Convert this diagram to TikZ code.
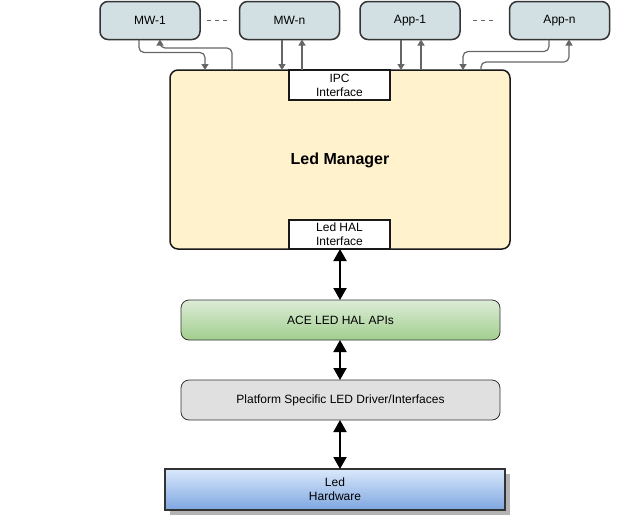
\documentclass[tikz,border=0pt]{standalone}
\usepackage{fontspec}
\setmainfont{Liberation Sans}
\usetikzlibrary{arrows.meta,calc,shadows}
\definecolor{topfill}{HTML}{D2DFE3}
\definecolor{boxline}{HTML}{333333}
\definecolor{arrgray}{HTML}{666666}
\definecolor{mgrfill}{HTML}{FFF2CC}
\definecolor{greentop}{HTML}{DCECD7}
\definecolor{greenbot}{HTML}{A2CE8E}
\definecolor{platfill}{HTML}{E0E0E0}
\definecolor{bluetop}{HTML}{DAE8FC}
\definecolor{bluebot}{HTML}{7EA6E0}
\definecolor{shadowgray}{HTML}{B3B3B3}
\begin{document}
\begin{tikzpicture}[x=1pt,y=-1pt,
  every node/.style={inner sep=0pt, outer sep=0pt, align=center},
  topbox/.style={draw=boxline, fill=topfill, line width=1.5pt, rounded corners=8pt,
    minimum width=100pt, minimum height=38pt, font=\fontsize{12}{14}\selectfont},
  mgrbox/.style={draw=black!90, fill=mgrfill, line width=1.5pt, rounded corners=8pt,
    minimum width=340pt, minimum height=179pt},
  ifacebox/.style={draw=black!90, fill=white, line width=1.5pt,
    minimum width=101pt, font=\fontsize{12}{14}\selectfont},
  layerbox/.style={draw=boxline, line width=0.8pt, rounded corners=8pt,
    minimum width=319pt, minimum height=40pt},
  garrow/.style={draw=arrgray, line width=1.2pt, -{Triangle[length=6pt,width=7pt]}, rounded corners=5pt},
  barrow/.style={line width=2pt, {Triangle[length=12pt,width=13pt]}-{Triangle[length=12pt,width=13pt]}},
  dots/.style={draw=arrgray, line width=1pt, dash pattern=on 4pt off 4pt}
]
\useasboundingbox (0,0) rectangle (636,530);

% top boxes
\node[topbox] (mw1) at (150,20.5) {MW-1};
\node[topbox] (mwn) at (289.5,20.5) {MW-n};
\node[topbox] (app1) at (410,20.5) {App-1};
\node[topbox] (appn) at (559.5,20.5) {App-n};

\draw[dots] ([xshift=7pt]mw1.east) -- ([xshift=-13pt]mwn.west);
\draw[dots] ([xshift=13pt]app1.east) -- ([xshift=-17pt]appn.west);

% manager
\node[mgrbox] (mgr) at (340,159.5) {};
\node[font=\fontsize{16}{18}\selectfont\bfseries] (mgrlabel) at (340,160) {Led Manager};
\node[ifacebox, minimum height=30pt] (ipc) at (339.5,85) {IPC\\Interface};
\node[ifacebox, minimum height=29pt] (hal) at (339.5,234.5) {Led HAL\\Interface};

% top connectors
\draw[garrow] ([xshift=-11pt]mw1.south) -- ++(0,13) -| ([xshift=-135pt]mgr.north);
\draw[garrow] ([xshift=-108pt]mgr.north) -- ++(0,-22) -| ([xshift=10pt]mw1.south);
\draw[garrow] ([xshift=-7.5pt]mwn.south) -- ([xshift=-7.5pt]mwn.south |- mgr.north);
\draw[garrow] ([xshift=-37.5pt]ipc.north) -- ([xshift=-37.5pt]ipc.north |- mwn.south) ;
\draw[garrow] ([xshift=-9pt]app1.south) -- ([xshift=-9pt]app1.south |- mgr.north);
\draw[garrow] ([xshift=81pt]mgr.north) -- ([xshift=81pt]mgr.north |- app1.south);
\draw[garrow] ([xshift=-10.5pt]appn.south) -- ++(0,12) -| ([xshift=123pt]mgr.north);
\draw[garrow] ([xshift=141pt]mgr.north) -- ++(0,-8) -| ([xshift=9.5pt]appn.south);

% lower layers
\node[layerbox, top color=greentop, bottom color=greenbot, font=\fontsize{12}{14}\selectfont] (ace) at (340.5,320) {ACE LED HAL APIs};
\node[layerbox, fill=platfill, font=\fontsize{12}{14}\selectfont] (plat) at (340.5,400) {Platform Specific LED Driver/Interfaces};
\node[draw=boxline, line width=2pt, top color=bluetop, bottom color=bluebot,
  minimum width=340pt, minimum height=41pt, font=\fontsize{12}{14}\selectfont,
  drop shadow={shadow xshift=5pt, shadow yshift=-5pt, fill=shadowgray, opacity=1}] (hw) at (335,489.5) {Led\\Hardware};

\draw[barrow] ([xshift=0.5pt]hal.south) -- ([xshift=0.5pt]hal.south |- ace.north);
\draw[barrow] ([xshift=-0.5pt]ace.south) -- ([xshift=-0.5pt]ace.south |- plat.north);
\draw[barrow] ([xshift=-0.5pt]plat.south) -- ([xshift=-0.5pt]plat.south |- hw.north);
\end{tikzpicture}
\end{document}
